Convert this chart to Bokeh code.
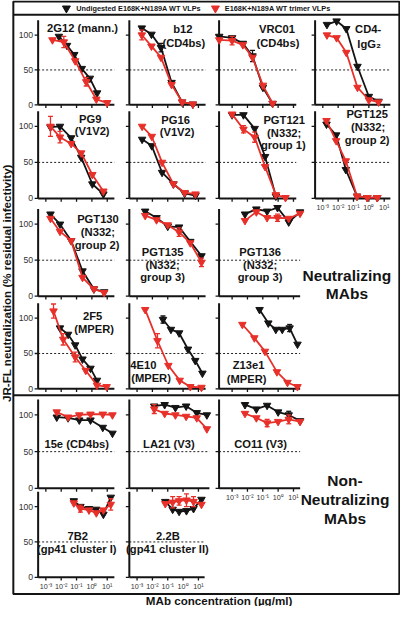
import math
from bokeh.plotting import figure
from bokeh.models import Range1d, LogScale
from bokeh.embed import file_html
from bokeh.resources import INLINE
from bokeh.core.properties import value

FONT = "Liberation Sans"
BLACK = "#141414"
RED = "#e8302a"

# ---------------- data (MAb concentration in ug/ml, % residual infectivity) -------------
# wt = Undigested E168K+N189A WT VLPs (black), tr = E168K+N189A WT trimer VLPs (red)
x_2G12_wt = [0.00708, 0.024, 0.0708, 0.219, 0.741, 2.19]
y_2G12_wt = [98, 85, 72, 52, 38, 17]
x_2G12_tr = [0.00269, 0.0148, 0.0813, 0.427, 1.95, 10.0]
y_2G12_tr = [93, 90, 63, 33, 8, 3]
e_2G12_tr = [0, 8, 0, 6, 0, 3]

x_b12 = [0.00204, 0.00871, 0.0363, 0.178, 0.871, 4.37]
y_b12_wt = [110, 101, 82, 32, 4, 1]
e_b12_wt = [0, 0, 6, 0, 0, 0]
y_b12_tr = [100, 84, 68, 29, 4, 1]
e_b12_tr = [7, 0, 0, 0, 0, 0]

x_VRC01 = [0.000145, 0.001, 0.005, 0.0214, 0.102, 0.437]
y_VRC01_wt = [98, 96, 88, 70, 25, 2]
e_VRC01_wt = [0, 0, 0, 8, 0, 0]
y_VRC01_tr = [93, 92, 86, 68, 28, 2]
e_VRC01_tr = [0, 6, 0, 0, 0, 0]

x_CD4IgG2 = [0.00186, 0.00794, 0.0339, 0.182, 1.0, 4.27]
y_CD4IgG2_wt = [115, 120, 109, 55, 12, 5]
y_CD4IgG2_tr = [100, 96, 75, 25, 7, 4]

x_PG9 = [0.002, 0.00832, 0.0447, 0.2, 1.07, 5.62]
y_PG9_wt = [99, 100, 84, 57, 20, 6]
y_PG9_tr = [100, 85, 76, 63, 33, 10]
e_PG9_tr = [14, 8, 0, 0, 0, 0]

x_PG16 = [0.00214, 0.00912, 0.0427, 0.234, 1.26, 6.46]
y_PG16_wt = [82, 73, 36, 20, 7, 4]
y_PG16_tr = [100, 86, 50, 20, 8, 6]

x_PGT121_wt = [0.001, 0.0055, 0.0295, 0.141, 0.708]
y_PGT121_wt = [116, 116, 97, 58, 3]
x_PGT121_tr = [0.001, 0.0055, 0.0295, 0.141, 0.708, 3.02]
y_PGT121_tr = [117, 96, 85, 44, 5, 1]
e_PGT121_tr = [0, 5, 7, 0, 0, 0]

x_PGT125 = [0.00174, 0.00741, 0.0316, 0.17, 0.794, 3.55]
y_PGT125_wt = [103, 88, 40, 3, 1, 1]
y_PGT125_tr = [108, 80, 52, 3, 1, 1]

x_PGT130 = [0.002, 0.00832, 0.0447, 0.245, 1.35, 6.31]
y_PGT130_wt = [114, 100, 77, 35, 10, 6]
y_PGT130_tr = [108, 90, 77, 26, 10, 5]

x_PGT135 = [0.00339, 0.0186, 0.1, 0.55, 2.95, 15.8]
y_PGT135_wt = [118, 109, 97, 96, 76, 56]
y_PGT135_tr = [112, 106, 99, 89, 74, 47]
e_PGT135_tr = [0, 0, 0, 6, 0, 6]

x_PGT136 = [0.00692, 0.038, 0.191, 0.912, 4.9, 26.9]
y_PGT136_wt = [114, 121, 118, 123, 103, 117]
y_PGT136_tr = [105, 117, 109, 109, 108, 115]
e_PGT136_tr = [0, 0, 0, 5, 0, 0]

x_2F5_wt = [0.00832, 0.0282, 0.0813, 0.245, 0.813, 2.14]
y_2F5_wt = [86, 77, 62, 42, 29, 12]
x_2F5_tr = [0.00316, 0.0135, 0.0813, 0.398, 2.14, 9.12]
y_2F5_tr = [110, 70, 45, 26, 5, 3]
e_2F5_tr = [10, 8, 7, 0, 0, 0]

x_4E10_wt = [0.049, 0.162, 0.55, 2.09, 6.17, 18.2]
y_4E10_wt = [98, 84, 79, 56, 40, 22]
e_4E10_wt = [5, 0, 0, 0, 0, 0]
x_4E10_tr = [0.00339, 0.0214, 0.11, 0.603, 2.95, 15.8]
y_4E10_tr = [112, 68, 33, 12, 3, 2]
e_4E10_tr = [0, 10, 0, 0, 0, 0]

x_Z13e1_wt = [0.0617, 0.229, 0.708, 1.86, 5.62, 18.2]
y_Z13e1_wt = [112, 93, 84, 84, 86, 63]
e_Z13e1_wt = [0, 0, 0, 0, 5, 0]
x_Z13e1_tr = [0.00468, 0.0282, 0.138, 0.832, 4.07, 18.2]
y_Z13e1_tr = [91, 72, 53, 24, 9, 3]

x_15e = [0.00513, 0.0282, 0.151, 0.813, 5.13, 21.9]
y_15e_wt = [97, 96, 93, 93, 83, 75]
y_15e_tr = [104, 97, 100, 101, 101, 100]

x_LA21 = [0.0132, 0.0631, 0.316, 1.58, 7.76, 35.5]
y_LA21_wt = [112, 114, 110, 112, 103, 100]
y_LA21_tr = [108, 102, 100, 98, 96, 81]
e_LA21_tr = [6, 0, 0, 0, 0, 0]

x_CO11 = [0.00692, 0.038, 0.191, 1.0, 4.9, 26.9]
y_CO11_wt = [114, 108, 113, 104, 100, 92]
e_CO11_wt = [0, 0, 0, 0, 5, 0]
y_CO11_tr = [102, 96, 89, 91, 94, 91]
e_CO11_tr = [0, 0, 5, 0, 6, 0]

x_7B2 = [0.0661, 0.178, 0.646, 1.95, 5.62, 17.0]
y_7B2_wt = [108, 100, 97, 96, 89, 113]
y_7B2_tr = [105, 97, 95, 91, 95, 103]
e_7B2_tr = [0, 5, 0, 0, 0, 8]

x_22B = [0.0692, 0.209, 0.55, 1.66, 4.79, 15.8]
y_22B_wt = [107, 96, 93, 94, 97, 110]
y_22B_tr = [104, 106, 108, 109, 107, 103]
e_22B_tr = [0, 8, 6, 9, 7, 0]

x_ticks = [1e-3, 1e-2, 1e-1, 1.0, 10.0]
x_tick_labels = ["10\u207b\u00b3", "10\u207b\u00b2", "10\u207b\u00b9", "10\u2070", "10\u00b9"]
y_ticks = [0, 50, 100]
y_tick_labels = ["0", "50", "100"]

legend_labels = ["Undigested E168K+N189A WT VLPs", "E168K+N189A WT trimer VLPs"]

# ---------------- layout (reference pixel frame) ----------------
XL, XR = 0.0, 414.5          # page frame, horizontal
YB, YT = 621.5, 2.0          # page frame, vertical (bottom, top)
COLS = {1: (39.0, 8.0), 2: (133.5, 8.0), 3: (226.5, 13.5), 4: (326.0, 8.0)}
ROWS = {1: (108.7, 37.3), 2: (204.3, 130.7), 3: (304.3, 230.7),
        4: (399.0, 326.7), 5: (500.7, 425.7), 6: (591.7, 519.3)}
DEC = 15.9

panels = [
    dict(r=1, c=1, w=79, wt=(x_2G12_wt, y_2G12_wt, None), tr=(x_2G12_tr, y_2G12_tr, e_2G12_tr),
         lab=[("2G12 (mann.)", 85, 30)]),
    dict(r=1, c=2, w=79, wt=(x_b12, y_b12_wt, e_b12_wt), tr=(x_b12, y_b12_tr, e_b12_tr),
         lab=[("b12", 189, 31.5), ("(CD4bs)", 190, 45)]),
    dict(r=1, c=3, w=80, wt=(x_VRC01, y_VRC01_wt, e_VRC01_wt), tr=(x_VRC01, y_VRC01_tr, e_VRC01_tr),
         lab=[("VRC01", 286.5, 31), ("(CD4bs)", 287.5, 45)]),
    dict(r=1, c=4, w=78, wt=(x_CD4IgG2, y_CD4IgG2_wt, None), tr=(x_CD4IgG2, y_CD4IgG2_tr, None),
         lab=[("CD4-", 381, 31.5), ("IgG\u2082", 382, 46.5)]),
    dict(r=2, c=1, w=79, wt=(x_PG9, y_PG9_wt, None), tr=(x_PG9, y_PG9_tr, e_PG9_tr),
         lab=[("PG9", 93, 123.5), ("(V1V2)", 95, 135.5)]),
    dict(r=2, c=2, w=79, wt=(x_PG16, y_PG16_wt, None), tr=(x_PG16, y_PG16_tr, None),
         lab=[("PG16", 181.5, 124), ("(V1V2)", 183, 136.5)]),
    dict(r=2, c=3, w=80, wt=(x_PGT121_wt, y_PGT121_wt, None), tr=(x_PGT121_tr, y_PGT121_tr, e_PGT121_tr),
         lab=[("PGT121", 294, 124.5), ("(N332;", 294, 137), ("group 1)", 293, 150)]),
    dict(r=2, c=4, w=78, wt=(x_PGT125, y_PGT125_wt, None), tr=(x_PGT125, y_PGT125_tr, None),
         lab=[("PGT125", 380, 118), ("(N332;", 381, 131.5), ("group 2)", 380, 145)], xt=True),
    dict(r=3, c=1, w=79, wt=(x_PGT130, y_PGT130_wt, None), tr=(x_PGT130, y_PGT130_tr, None),
         lab=[("PGT130", 101, 225), ("(N332;", 101, 238.3), ("group 2)", 100, 251.7)]),
    dict(r=3, c=2, w=79, wt=(x_PGT135, y_PGT135_wt, None), tr=(x_PGT135, y_PGT135_tr, e_PGT135_tr),
         lab=[("PGT135", 168, 259), ("(N332;", 168, 272), ("group 3)", 168, 285)]),
    dict(r=3, c=3, w=84, wt=(x_PGT136, y_PGT136_wt, None), tr=(x_PGT136, y_PGT136_tr, e_PGT136_tr),
         lab=[("PGT136", 269, 259), ("(N332;", 269, 272), ("group 3)", 269, 285)]),
    dict(r=4, c=1, w=79, wt=(x_2F5_wt, y_2F5_wt, None), tr=(x_2F5_tr, y_2F5_tr, e_2F5_tr),
         lab=[("2F5", 95.5, 325), ("(MPER)", 97, 338)]),
    dict(r=4, c=2, w=79, wt=(x_4E10_wt, y_4E10_wt, e_4E10_wt), tr=(x_4E10_tr, y_4E10_tr, e_4E10_tr),
         lab=[("4E10", 148, 375), ("(MPER)", 156, 388)]),
    dict(r=4, c=3, w=84, wt=(x_Z13e1_wt, y_Z13e1_wt, e_Z13e1_wt), tr=(x_Z13e1_tr, y_Z13e1_tr, None),
         lab=[("Z13e1", 257, 375), ("(MPER)", 255, 389)]),
    dict(r=5, c=1, w=79, wt=(x_15e, y_15e_wt, None), tr=(x_15e, y_15e_tr, None),
         lab=[("15e (CD4bs)", 79, 455.5)]),
    dict(r=5, c=2, w=83, wt=(x_LA21, y_LA21_wt, None), tr=(x_LA21, y_LA21_tr, e_LA21_tr),
         lab=[("LA21 (V3)", 174.5, 455)]),
    dict(r=5, c=3, w=84, wt=(x_CO11, y_CO11_wt, e_CO11_wt), tr=(x_CO11, y_CO11_tr, e_CO11_tr),
         lab=[("CO11 (V3)", 269.5, 455)], xt=True),
    dict(r=6, c=1, w=79, wt=(x_7B2, y_7B2_wt, None), tr=(x_7B2, y_7B2_tr, e_7B2_tr),
         lab=[("7B2", 80, 549), ("(gp41 cluster I)", 79, 563)], xt=True),
    dict(r=6, c=2, w=78, wt=(x_22B, y_22B_wt, None), tr=(x_22B, y_22B_tr, e_22B_tr),
         lab=[("2.2B", 173.5, 549), ("(gp41 cluster II)", 173, 563)], xt=True),
]

W, H = 400, 606
p = figure(width=W, height=H, x_range=Range1d(XL, XR), y_range=Range1d(YB, YT),
           x_axis_type=None, y_axis_type=None, toolbar_location=None,
           output_backend="svg", min_border=0)
p.outline_line_color = None
p.background_fill_color = "white"
p.border_fill_color = "white"

# one log-scaled x range per panel column and one linear y range per panel row,
# each placed so that its panel occupies its own box of the page
xr, xs_ = {}, {}
for c, (A, off) in COLS.items():
    x3 = A + off
    xr[f"c{c}"] = Range1d(10 ** (-3 - (x3 - XL) / DEC), 10 ** (-3 + (XR - x3) / DEC))
    xs_[f"c{c}"] = LogScale()
yr = {}
for r, (y0, y100) in ROWS.items():
    ppu = (y0 - y100) / 100.0
    yr[f"r{r}"] = Range1d((y0 - YB) / ppu, (y0 - YT) / ppu)
p.extra_x_ranges = xr
p.extra_x_scales = xs_
p.extra_y_ranges = yr

# outer frame, legend strip and section divider
p.quad(left=[13.3], right=[413.3], top=[3.0], bottom=[608.7], fill_color=None,
       line_color=BLACK, line_width=2)
p.segment(x0=[13.3, 13.3], y0=[16.5, 405.5], x1=[413.3, 413.3], y1=[16.5, 405.5],
          line_color=BLACK, line_width=2)

# legend
p.scatter(x=[68.3], y=[10.0], marker="inverted_triangle", size=8, color=BLACK)
p.scatter(x=[222.7], y=[10.0], marker="inverted_triangle", size=8, color=RED)
p.text(x=[78.5, 232.5], y=[10.3, 10.3], text=legend_labels, text_font=value(FONT),
       text_font_style="bold", text_font_size="7.3px", text_baseline="middle",
       text_align="left", text_color=BLACK)

lab_txt, lab_x, lab_y = [], [], []

for pn in panels:
    A, off = COLS[pn["c"]]
    w = pn["w"]
    kw = dict(x_range_name=f"c{pn['c']}", y_range_name=f"r{pn['r']}")
    xlo = 10 ** (-3 - off / DEC)
    xhi = 10 ** (-3 + (w - off) / DEC)
    # 50% reference line
    p.segment(x0=[xlo], y0=[50], x1=[xhi], y1=[50], line_color="#222222",
              line_width=1, line_dash="2 2", **kw)
    # ticks
    p.segment(x0=x_ticks, y0=[0] * 5, x1=x_ticks, y1=[-4.5] * 5,
              line_color=BLACK, line_width=1.3, **kw)
    p.ray(x=[xlo] * 3, y=y_ticks, length=3.5, length_units="screen", angle=math.pi,
          line_color=BLACK, line_width=1.3, **kw)
    # axes
    p.segment(x0=[xlo, xlo], y0=[0, 0], x1=[xhi, xlo], y1=[0, 121],
              line_color=BLACK, line_width=2, **kw)
    if pn["c"] == 1:
        p.text(x=[xlo] * 3, y=y_ticks, text=y_tick_labels, x_offset=-5,
               text_align="right", text_baseline="middle", text_font=value(FONT),
               text_font_size="8.7px", text_color="#333333", **kw)
    if pn.get("xt"):
        p.text(x=x_ticks, y=[0] * 5, text=x_tick_labels, y_offset=9,
               text_align="center", text_baseline="middle", text_font=value(FONT),
               text_font_size="7.2px", text_color="#333333", **kw)
    for (xs, ys, es), col in ((pn["wt"], BLACK), (pn["tr"], RED)):
        if es is not None:
            ex = [x for x, e in zip(xs, es) if e > 0]
            elo = [y - e for y, e in zip(ys, es) if e > 0]
            ehi = [y + e for y, e in zip(ys, es) if e > 0]
            p.segment(x0=ex, y0=elo, x1=ex, y1=ehi, line_color=col, line_width=1.3, **kw)
            p.scatter(x=ex + ex, y=elo + ehi, marker="dash", size=5,
                      line_color=col, line_width=1.3, **kw)
        p.line(x=xs, y=ys, line_color=col, line_width=1.8, **kw)
        p.scatter(x=xs, y=ys, marker="inverted_triangle", size=7.5,
                  fill_color=col, line_color=col, **kw)
    for t, lx, ly in pn["lab"]:
        lab_txt.append(t)
        lab_x.append(lx)
        lab_y.append(ly)

p.text(x=lab_x, y=lab_y, text=lab_txt, text_font=value(FONT), text_font_style="bold",
       text_font_size="11.2px", text_align="center", text_baseline="middle",
       text_color=BLACK)

# group labels
p.text(x=[359, 359, 357, 357, 357], y=[283.5, 302.0, 493.0, 512.0, 531.5],
       text=["Neutralizing", "MAbs", "Non-", "Neutralizing", "MAbs"],
       text_font=value(FONT), text_font_style="bold", text_font_size="15.5px",
       text_align="center", text_baseline="middle", text_color=BLACK)

# axis titles
p.text(x=[6.0], y=[291.0], text=["JR-FL neutralization (% residual infectivity)"],
       angle=math.pi / 2, text_font=value(FONT), text_font_style="bold",
       text_font_size="11.6px", text_align="center", text_baseline="middle",
       text_color=BLACK)
p.text(x=[226.5], y=[615.5], text=["MAb concentration (\u00b5g/ml)"],
       text_font=value(FONT), text_font_style="bold", text_font_size="11.6px",
       text_align="center", text_baseline="middle", text_color=BLACK)

open("out.html", "w").write(file_html(p, INLINE))
